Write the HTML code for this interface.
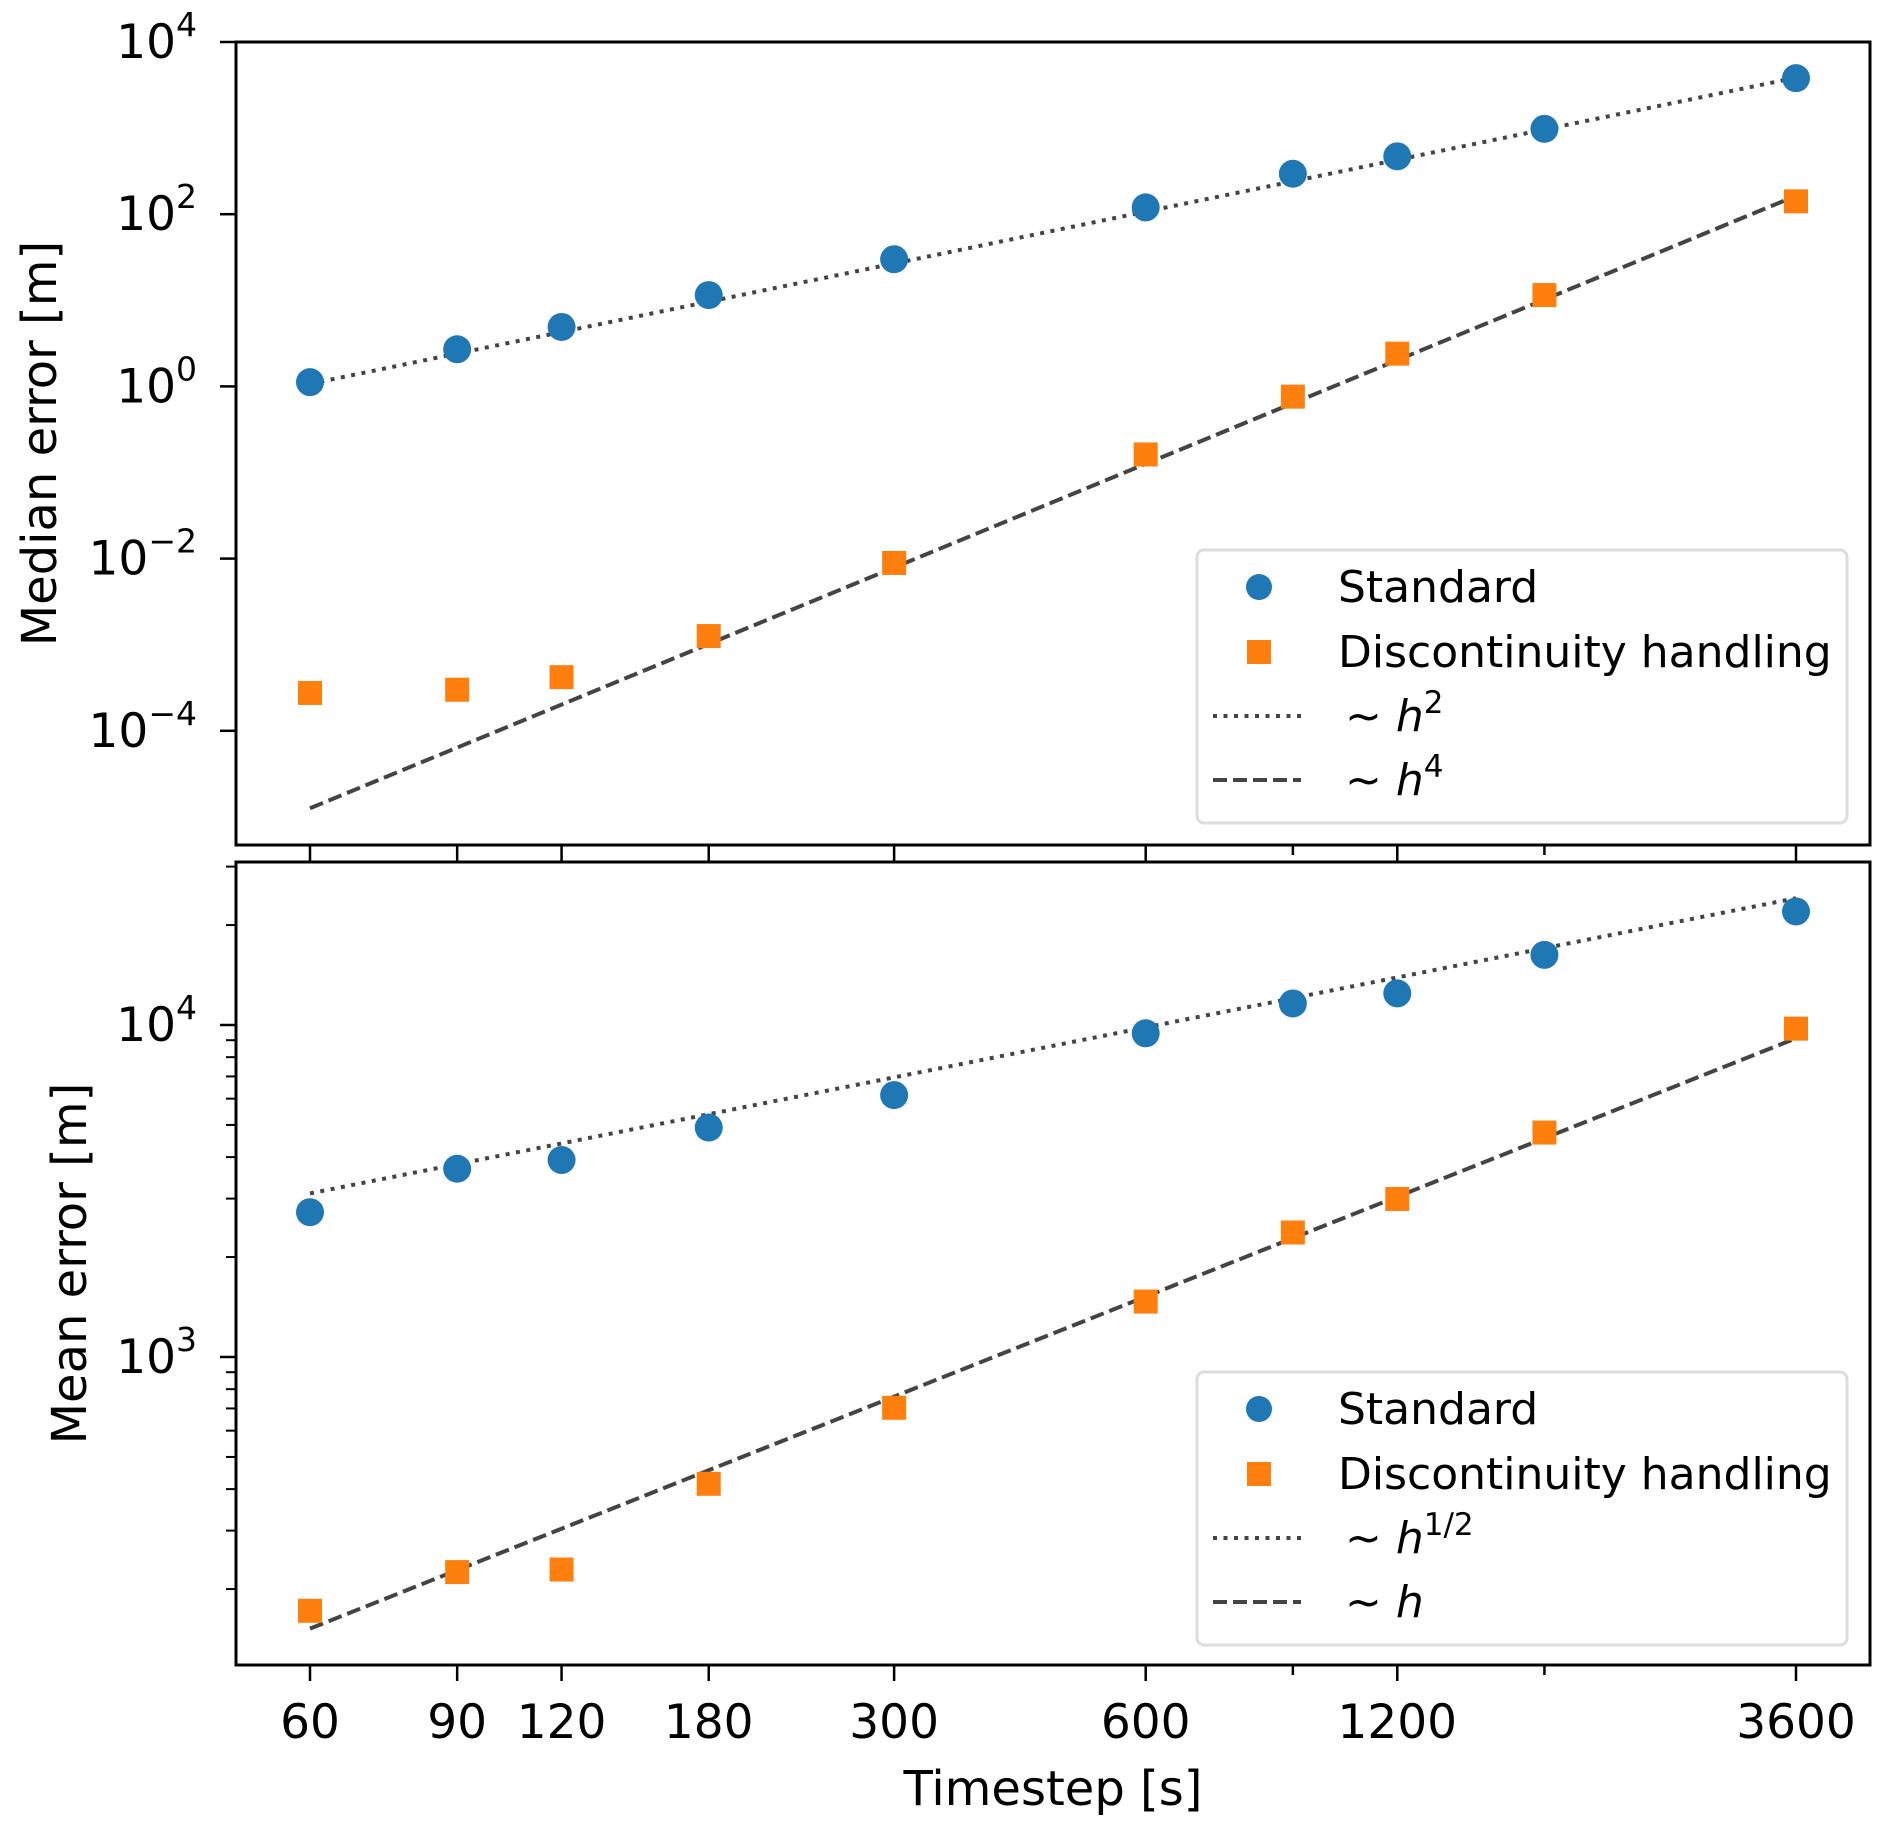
<!DOCTYPE html>
<html><head><meta charset="utf-8">
<style>
html,body{margin:0;padding:0;background:#fff;}
svg{display:block;}
text{font-family:"DejaVu Sans","Liberation Sans",sans-serif;fill:#000;}
</style></head>
<body>
<svg id="chart" width="1892" height="1833" viewBox="0 0 1892 1833" xmlns="http://www.w3.org/2000/svg"></svg>
<script>
// ---- data ----
const timesteps = [60, 90, 120, 180, 300, 600, 900, 1200, 1800, 3600];
const xTickLabels = ["60", "90", "120", "180", "300", "600", "", "1200", "", "3600"];
const medianStandard = [1.12, 2.7, 4.9, 11.5, 30, 120, 295, 470, 980, 3800];
const medianDisc = [2.75e-4, 3.0e-4, 4.2e-4, 1.26e-3, 8.9e-3, 0.162, 0.76, 2.4, 11.5, 141];
const meanStandard = [2730, 3690, 3920, 4910, 6150, 9440, 11610, 12450, 16260, 21980];
const meanDisc = [172, 225, 229, 415, 703, 1469, 2371, 2992, 4742, 9750];
const topRefH2 = 1.07;    // value of ~h^2 at 60s
const topRefH4 = 1.26e-5; // value of ~h^4 at 60s
const botRefH05 = 3110;   // value of ~h^1/2 at 60s
const botRefH1 = 152;     // value of ~h at 60s
const topYTicks = [-4, -2, 0, 2, 4];
const botYTicks = [3, 4];

const NS = "http://www.w3.org/2000/svg";
const svg = document.getElementById("chart");
function el(tag, attrs, parent) {
  const e = document.createElementNS(NS, tag);
  for (const k in attrs) e.setAttribute(k, attrs[k]);
  (parent || svg).appendChild(e);
  return e;
}
const L = 236, R = 1870;
const x = t => 310 + Math.log(t / 60) / Math.log(60) * 1486;
const topAx = {top: 42, bottom: 845, y: v => 42 + (4 - Math.log10(v)) * 86.1, minLog: -5.33, maxLog: 4};
const botAx = {top: 862, bottom: 1665, y: v => 1025 + (4 - Math.log10(v)) * 332, minLog: 2.072, maxLog: 4.494};
const blue = "#1f77b4", orange = "#ff7f0e", lineCol = "#444";

function drawPanel(ax, std, disc, refA, expA, refB, expB, yTicks, ylabel, labelsA, name) {
  const g = el("g", {});
  
  
  if (name !== "top-panel") {
    for (let d = Math.floor(ax.minLog); d <= Math.ceil(ax.maxLog); d++) {
      for (let m = 2; m <= 9; m++) {
        const lv = d + Math.log10(m);
        if (lv < ax.minLog || lv > ax.maxLog) continue;
        const yy = ax.y(Math.pow(10, lv));
        el("line", {x1: L - 10, x2: L, y1: yy, y2: yy, stroke: "#000", "stroke-width": 2}, g);
      }
    }
  }
  yTicks.forEach(p => {
    const yy = ax.y(Math.pow(10, p));
    el("line", {x1: L - 16, x2: L, y1: yy, y2: yy, stroke: "#000", "stroke-width": 2.5}, g);
    const t = el("text", {x: 197, y: yy + 16, "font-size": 47, "text-anchor": "end"}, g);
    
    
    t.textContent = "10";
    const s = el("tspan", {dy: -22, "font-size": 33}, t);
    s.textContent = p < 0 ? "\u2212" + (-p) : String(p);
  });
  timesteps.forEach((ts, i) => {
    const xx = x(ts);
    const len = xTickLabels[i] ? 16 : 10;
    el("line", {x1: xx, x2: xx, y1: ax.bottom, y2: ax.bottom + len, stroke: "#000", "stroke-width": 2.5}, g);
  });
  const xa = x(60), xb = x(3600);
  const la = el("line", {x1: xa, y1: ax.y(refA), x2: xb, y2: ax.y(refA * Math.pow(60, expA)), stroke: lineCol, "stroke-width": 4, "stroke-dasharray": "4 6.5"}, g);
  
  
  const lb = el("line", {x1: xa, y1: ax.y(refB), x2: xb, y2: ax.y(refB * Math.pow(60, expB)), stroke: lineCol, "stroke-width": 4, "stroke-dasharray": "14 6"}, g);
  
  
  std.forEach((v, i) => {
    const c = el("circle", {cx: x(timesteps[i]), cy: ax.y(v), r: 14, fill: blue}, g);
    
    
  });
  disc.forEach((v, i) => {
    const r = el("rect", {x: x(timesteps[i]) - 12, y: ax.y(v) - 12, width: 24, height: 24, fill: orange}, g);
    
    
  });
  el("rect", {x: L, y: ax.top, width: R - L, height: ax.bottom - ax.top, fill: "none", stroke: "#000", "stroke-width": 3}, g);
  const cy = (ax.top + ax.bottom) / 2;
  const yl = el("text", {x: 0, y: 0, "font-size": 48, "text-anchor": "middle", transform: `translate(${name === "top-panel" ? 56 : 86},${cy}) rotate(-90)`}, g);
  
  
  yl.textContent = ylabel;
  const lgTop = name === "top-panel" ? 550 : 1372;
  const lg = el("g", {}, g);
  
  
  el("rect", {x: 1197, y: lgTop, width: 650, height: 273, rx: 7, fill: "#fff", "fill-opacity": 0.8, stroke: "#ddd", "stroke-width": 3}, lg);
  const rows = [37, 102, 166, 230].map(d => lgTop + d);
  el("circle", {cx: 1259, cy: rows[0], r: 13, fill: blue}, lg);
  el("rect", {x: 1247, y: rows[1] - 12, width: 24, height: 24, fill: orange}, lg);
  el("line", {x1: 1213, x2: 1301, y1: rows[2], y2: rows[2], stroke: lineCol, "stroke-width": 4, "stroke-dasharray": "4 6.5"}, lg);
  el("line", {x1: 1213, x2: 1301, y1: rows[3], y2: rows[3], stroke: lineCol, "stroke-width": 4, "stroke-dasharray": "14 6"}, lg);
  ["Standard", "Discontinuity handling"].forEach((s, i) => {
    const t = el("text", {x: 1338, y: rows[i] + 15, "font-size": 44}, lg);
    
    
    t.textContent = s;
  });
  labelsA.forEach((s, i) => {
    const t = el("text", {x: 1345, y: rows[2 + i] + 15, "font-size": 44}, lg);
    
    
    t.textContent = "~ ";
    const h = el("tspan", {"font-style": "italic"}, t);
    h.textContent = "h";
    if (s) {
      const sp = el("tspan", {dy: -18, "font-size": 31}, t);
      sp.textContent = s;
    }
  });
}

drawPanel(topAx, medianStandard, medianDisc, topRefH2, 2, topRefH4, 4, topYTicks, "Median error [m]", ["2", "4"], "top-panel");
drawPanel(botAx, meanStandard, meanDisc, botRefH05, 0.5, botRefH1, 1, botYTicks, "Mean error [m]", ["1/2", ""], "bottom-panel");

timesteps.forEach((ts, i) => {
  if (!xTickLabels[i]) return;
  const t = el("text", {x: x(ts), y: 1738, "font-size": 47, "text-anchor": "middle"});
  
  
  t.textContent = xTickLabels[i];
});
const xt = el("text", {x: 1053, y: 1805, "font-size": 48, "text-anchor": "middle"});


xt.textContent = "Timestep [s]";
</script>
</body></html>
